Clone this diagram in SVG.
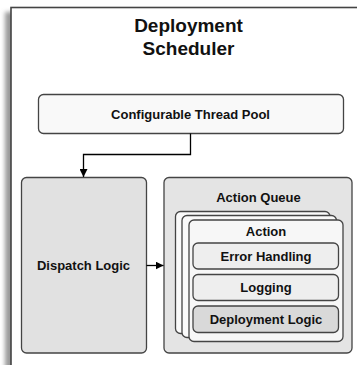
<svg xmlns="http://www.w3.org/2000/svg" width="357" height="365" viewBox="0 0 357 365">
<defs>
<filter id="sh" x="-10%" y="-10%" width="120%" height="120%"><feGaussianBlur stdDeviation="2.2"/></filter>
<marker id="ah" markerWidth="8" markerHeight="8" refX="8" refY="4" orient="auto" markerUnits="userSpaceOnUse"><path d="M0,0 L8,4 L0,8 Z" fill="#000"/></marker>
</defs>
<style>
.box{stroke:#444;stroke-width:1.3}
.t{font-family:"Liberation Sans",Arial,sans-serif;font-weight:bold;font-size:13px;fill:#111;text-anchor:middle}
.c{fill:none;stroke:#000;stroke-width:1.3}
</style>
<g id="scheduler">
<rect x="5" y="12" width="400" height="400" fill="#9a9a9a" filter="url(#sh)"/>
<rect x="11" y="7.5" width="400" height="400" fill="#fff" stroke="#444" stroke-width="1.6"/>
<text class="t" x="188.5" y="32" style="font-size:19px">Deployment</text>
<text class="t" x="188.5" y="55" style="font-size:19px">Scheduler</text>
</g>
<g id="thread-pool">
<rect class="box" x="38.5" y="94.5" width="305" height="39" rx="5" fill="#f9f9f9"/>
<text class="t" x="190.5" y="118.5">Configurable Thread Pool</text>
</g>
<g id="dispatch-logic">
<rect class="box" x="21.5" y="177.5" width="125" height="175.5" rx="5" fill="#e1e1e1"/>
<text class="t" x="83.5" y="270">Dispatch Logic</text>
</g>
<g id="action-queue">
<rect class="box" x="164" y="177.5" width="188" height="175.5" rx="5" fill="#e4e4e4"/>
<text class="t" x="258.5" y="202">Action Queue</text>
</g>
<g id="action">
<rect class="box" x="175.5" y="211.5" width="154.5" height="122" rx="5" fill="#fafafa"/>
<rect class="box" x="182" y="215.5" width="154.5" height="122" rx="5" fill="#fafafa"/>
<rect class="box" x="189" y="220" width="154" height="121.5" rx="5" fill="#f7f7f7"/>
<text class="t" x="266" y="236">Action</text>
</g>
<g id="error-handling">
<rect class="box" x="193" y="243" width="145.5" height="26" rx="5" fill="#eeeeee"/>
<text class="t" x="266" y="260.5">Error Handling</text>
</g>
<g id="logging">
<rect class="box" x="193" y="274.5" width="145.5" height="26" rx="5" fill="#eeeeee"/>
<text class="t" x="266" y="292">Logging</text>
</g>
<g id="deployment-logic">
<rect class="box" x="193" y="306" width="145.5" height="26.5" rx="5" fill="#d9d9d9"/>
<text class="t" x="266" y="323.5">Deployment Logic</text>
</g>
<g id="connectors">
<path class="c" d="M190.5,133.5 V154.5 H83.5 V177" marker-end="url(#ah)"/>
<path class="c" d="M146.5,265.5 H163.5" marker-end="url(#ah)"/>
</g>
</svg>
